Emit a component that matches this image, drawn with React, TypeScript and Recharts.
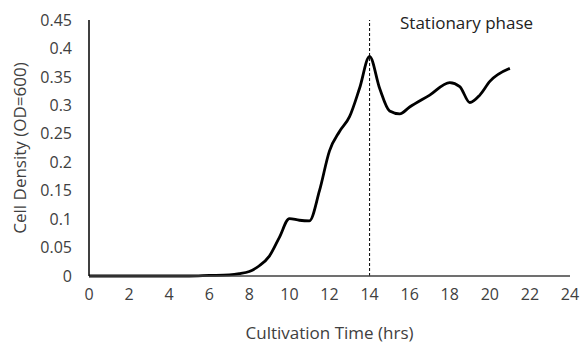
import React from 'react';
import { LineChart, Line, XAxis, YAxis, ReferenceLine, Label } from 'recharts';

// Cultivation time (hrs) and OD600 readings
const hours = [0, 1, 2, 3, 4, 5, 6, 7, 7.5, 8, 8.5, 9, 9.5, 10, 10.5, 11, 11.5, 12, 12.5, 13, 13.5, 14, 14.5, 15, 15.5, 16, 17, 18, 18.5, 19, 19.5, 20, 21];
const density = [0, 0, 0, 0, 0, 0, 0.001, 0.002, 0.004, 0.008, 0.018, 0.035, 0.068, 0.101, 0.098, 0.097, 0.15, 0.22, 0.254, 0.28, 0.33, 0.386, 0.33, 0.29, 0.285, 0.297, 0.318, 0.34, 0.333, 0.305, 0.318, 0.342, 0.365];

const xTicks = [0, 2, 4, 6, 8, 10, 12, 14, 16, 18, 20, 22, 24];
const yTicks = [0, 0.05, 0.1, 0.15, 0.2, 0.25, 0.3, 0.35, 0.4, 0.45];
const phaseStart = 14;
const phaseLabel = 'Stationary phase';

const data = hours.map((h, i) => ({ h, od: density[i] }));

const font = '"Open Sans", sans-serif';
const tickStyle = { fontSize: 16, fill: '#404040', fontFamily: font };

export default function App() {
  return (
    <div style={{ position: 'absolute', left: 0, top: 0, width: 585, height: 345, background: '#fff' }}>
      <LineChart width={585} height={345} data={data} margin={{ top: 20, right: 15, bottom: 0, left: 0 }}>
        <XAxis
          dataKey="h"
          type="number"
          domain={[0, 24]}
          ticks={xTicks}
          height={69}
          tickLine={false}
          tickSize={0}
          tickMargin={13}
          axisLine={{ stroke: '#404040', strokeWidth: 1.5 }}
          tick={tickStyle}
        >
          <Label value="Cultivation Time (hrs)" position="insideBottom" offset={6} style={{ ...tickStyle, fontSize: 17 }} />
        </XAxis>
        <YAxis
          type="number"
          domain={[0, 0.45]}
          ticks={yTicks}
          width={89}
          tickLine={false}
          tickSize={0}
          tickMargin={17}
          axisLine={{ stroke: '#000', strokeWidth: 1.5 }}
          tick={tickStyle}
          tickFormatter={(v: number) => String(Math.round(v * 100) / 100)}
        >
          <Label value="Cell Density (OD=600)" angle={-90} position="insideLeft" offset={20} style={{ ...tickStyle, fontSize: 17, textAnchor: 'middle' }} />
        </YAxis>
        <ReferenceLine x={phaseStart} stroke="#000" strokeWidth={1} strokeDasharray="3 2" />
        <Line
          type="monotone"
          dataKey="od"
          stroke="#000"
          strokeWidth={2.8}
          dot={false}
          isAnimationActive={false}
        />
      </LineChart>
      <div
        style={{
          position: 'absolute',
          left: 400,
          top: 11,
          fontFamily: font,
          fontSize: 17,
          color: '#222',
          whiteSpace: 'nowrap',
        }}
      >
        {phaseLabel}
      </div>
    </div>
  );
}
